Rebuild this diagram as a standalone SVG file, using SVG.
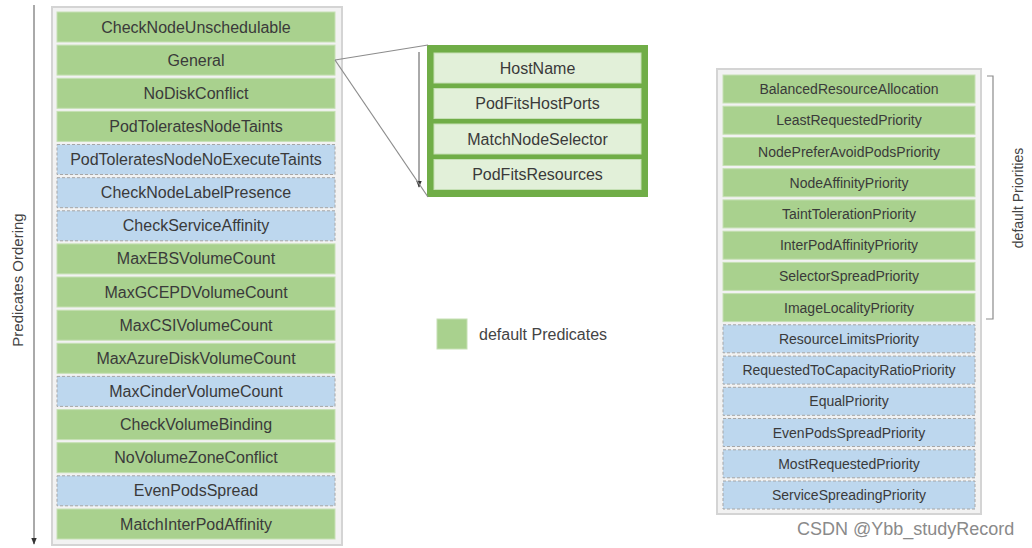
<svg xmlns="http://www.w3.org/2000/svg" width="1032" height="548" viewBox="0 0 1032 548">
<defs>
<marker id="ah" viewBox="0 0 10 10" refX="9" refY="5" markerWidth="7" markerHeight="7" orient="auto"><path d="M0,1 L10,5 L0,9 z" fill="#333"/></marker>
<style>
.frame{fill:#f2f2f2;stroke:#d4d4d4;stroke-width:2}
.g{fill:#a9d18e;stroke:#c6e0b4;stroke-width:1}
.b{fill:#bdd7ee;stroke:#a6a6a6;stroke-width:1;stroke-dasharray:3 2}
.lg{fill:#e2f0d9;stroke:#c5e0b4;stroke-width:1}
.t{font-family:"Liberation Sans",Arial,sans-serif;font-size:16px;fill:#3a3a3a;text-anchor:middle}
.ts{font-family:"Liberation Sans",Arial,sans-serif;font-size:14px;fill:#3a3a3a;text-anchor:middle}
.lbl{font-family:"Liberation Sans",Arial,sans-serif;font-size:15px;fill:#444}
.ln{stroke:#8c8c8c;stroke-width:1.2;fill:none}
</style>
</defs>
<rect width="1032" height="548" fill="#fff"/>

<g id="predicates">
<rect class="frame" x="52" y="7" width="290" height="538"/>
<g id="p1"><rect class="g" x="57" y="12" width="278" height="30"/><text class="t" x="196" y="32.5">CheckNodeUnschedulable</text></g>
<g id="p2"><rect class="g" x="57" y="45.1" width="278" height="30"/><text class="t" x="196" y="65.6">General</text></g>
<g id="p3"><rect class="g" x="57" y="78.3" width="278" height="30"/><text class="t" x="196" y="98.8">NoDiskConflict</text></g>
<g id="p4"><rect class="g" x="57" y="111.4" width="278" height="30"/><text class="t" x="196" y="131.9">PodToleratesNodeTaints</text></g>
<g id="p5"><rect class="b" x="57" y="144.5" width="278" height="30"/><text class="t" x="196" y="165">PodToleratesNodeNoExecuteTaints</text></g>
<g id="p6"><rect class="b" x="57" y="177.7" width="278" height="30"/><text class="t" x="196" y="198.2">CheckNodeLabelPresence</text></g>
<g id="p7"><rect class="b" x="57" y="210.8" width="278" height="30"/><text class="t" x="196" y="231.3">CheckServiceAffinity</text></g>
<g id="p8"><rect class="g" x="57" y="243.9" width="278" height="30"/><text class="t" x="196" y="264.4">MaxEBSVolumeCount</text></g>
<g id="p9"><rect class="g" x="57" y="277" width="278" height="30"/><text class="t" x="196" y="297.5">MaxGCEPDVolumeCount</text></g>
<g id="p10"><rect class="g" x="57" y="310.2" width="278" height="30"/><text class="t" x="196" y="330.7">MaxCSIVolumeCount</text></g>
<g id="p11"><rect class="g" x="57" y="343.3" width="278" height="30"/><text class="t" x="196" y="363.8">MaxAzureDiskVolumeCount</text></g>
<g id="p12"><rect class="b" x="57" y="376.4" width="278" height="30"/><text class="t" x="196" y="396.9">MaxCinderVolumeCount</text></g>
<g id="p13"><rect class="g" x="57" y="409.6" width="278" height="30"/><text class="t" x="196" y="430.1">CheckVolumeBinding</text></g>
<g id="p14"><rect class="g" x="57" y="442.7" width="278" height="30"/><text class="t" x="196" y="463.2">NoVolumeZoneConflict</text></g>
<g id="p15"><rect class="b" x="57" y="475.8" width="278" height="30"/><text class="t" x="196" y="496.3">EvenPodsSpread</text></g>
<g id="p16"><rect class="g" x="57" y="509" width="278" height="30"/><text class="t" x="196" y="529.5">MatchInterPodAffinity</text></g>
</g>

<g id="general-detail">
<rect x="429.5" y="47.5" width="216" height="147" fill="#70ad47" stroke="#70ad47" stroke-width="5"/>
<g id="g1"><rect class="lg" x="434" y="53" width="207" height="30"/><text class="t" x="537.5" y="73.5">HostName</text></g>
<g id="g2"><rect class="lg" x="434" y="88.5" width="207" height="30"/><text class="t" x="537.5" y="109">PodFitsHostPorts</text></g>
<g id="g3"><rect class="lg" x="434" y="124" width="207" height="30"/><text class="t" x="537.5" y="144.5">MatchNodeSelector</text></g>
<g id="g4"><rect class="lg" x="434" y="159.5" width="207" height="30"/><text class="t" x="537.5" y="180">PodFitsResources</text></g>
</g>

<g id="legend">
<rect x="437" y="319" width="30" height="30" fill="#a9d18e" stroke="#c6e0b4"/>
<text class="lbl" x="479" y="340" style="font-size:16px">default Predicates</text>
</g>

<g id="priorities">
<rect class="frame" x="717" y="69" width="264" height="445"/>
<g id="r1"><rect class="g" x="723" y="75" width="252" height="28"/><text class="ts" x="849" y="94">BalancedResourceAllocation</text></g>
<g id="r2"><rect class="g" x="723" y="106.2" width="252" height="28"/><text class="ts" x="849" y="125.2">LeastRequestedPriority</text></g>
<g id="r3"><rect class="g" x="723" y="137.5" width="252" height="28"/><text class="ts" x="849" y="156.5">NodePreferAvoidPodsPriority</text></g>
<g id="r4"><rect class="g" x="723" y="168.7" width="252" height="28"/><text class="ts" x="849" y="187.7">NodeAffinityPriority</text></g>
<g id="r5"><rect class="g" x="723" y="199.9" width="252" height="28"/><text class="ts" x="849" y="218.9">TaintTolerationPriority</text></g>
<g id="r6"><rect class="g" x="723" y="231.2" width="252" height="28"/><text class="ts" x="849" y="250.2">InterPodAffinityPriority</text></g>
<g id="r7"><rect class="g" x="723" y="262.4" width="252" height="28"/><text class="ts" x="849" y="281.4">SelectorSpreadPriority</text></g>
<g id="r8"><rect class="g" x="723" y="293.6" width="252" height="28"/><text class="ts" x="849" y="312.6">ImageLocalityPriority</text></g>
<g id="r9"><rect class="b" x="723" y="324.8" width="252" height="28"/><text class="ts" x="849" y="343.8">ResourceLimitsPriority</text></g>
<g id="r10"><rect class="b" x="723" y="356.1" width="252" height="28"/><text class="ts" x="849" y="375.1">RequestedToCapacityRatioPriority</text></g>
<g id="r11"><rect class="b" x="723" y="387.3" width="252" height="28"/><text class="ts" x="849" y="406.3">EqualPriority</text></g>
<g id="r12"><rect class="b" x="723" y="418.5" width="252" height="28"/><text class="ts" x="849" y="437.5">EvenPodsSpreadPriority</text></g>
<g id="r13"><rect class="b" x="723" y="449.8" width="252" height="28"/><text class="ts" x="849" y="468.8">MostRequestedPriority</text></g>
<g id="r14"><rect class="b" x="723" y="481" width="252" height="28"/><text class="ts" x="849" y="500">ServiceSpreadingPriority</text></g>
</g>

<g id="connectors">
<line x1="34" y1="5" x2="34" y2="544" stroke="#555" stroke-width="1" marker-end="url(#ah)"/>
<line x1="419" y1="52" x2="419" y2="187" stroke="#555" stroke-width="1" marker-end="url(#ah)"/>
<line class="ln" x1="335" y1="60" x2="428" y2="45"/>
<line class="ln" x1="335" y1="60" x2="428" y2="197"/>
<path class="ln" d="M987,76 H993 V319 H986"/>
</g>

<g id="labels">
<text class="lbl" transform="translate(23,280) rotate(-90)" text-anchor="middle">Predicates Ordering</text>
<text class="lbl" transform="translate(1023,198) rotate(-90)" text-anchor="middle" style="font-size:14px">default Priorities</text>
<text x="797" y="535" font-family="Liberation Sans,Arial,sans-serif" font-size="18" fill="#8a8a8a">CSDN @Ybb_studyRecord</text>
</g>
</svg>
